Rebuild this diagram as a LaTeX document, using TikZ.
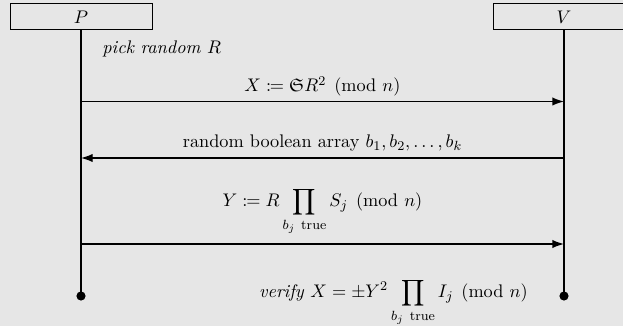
\documentclass[tikz,border=0pt,11pt]{standalone}
\usepackage{amsmath,amssymb,mathtools}
\usetikzlibrary{arrows.meta}
\definecolor{bgcol}{RGB}{230,230,230}
\tikzset{
  actor/.style={draw, line width=0.6pt, minimum width=85.2pt, minimum height=15.6pt, inner sep=0pt},
  life/.style={line width=0.8pt},
  msg/.style={line width=0.8pt, -{Latex[length=7pt,width=5pt]}},
  enddot/.style={circle, fill=black, inner sep=0pt, minimum size=5.5pt},
  lbl/.style={anchor=base, inner sep=0pt}
}
\begin{document}
\begin{tikzpicture}[x=0.6pt,y=-0.6pt]
\useasboundingbox (0,0) rectangle (623,326);
\clip (0,0) rectangle (623,326);
\fill[bgcol] (0,0) rectangle (623,326);
\node[actor] (P) at (81,17) {$P$};
\node[actor] (V) at (564,17) {$V$};
\node[enddot] (Pend) at (81,296) {};
\node[enddot] (Vend) at (564,296) {};
\draw[life] (P.south) -- (Pend.center);
\draw[life] (V.south) -- (Vend.center);
% message end points on the lifelines
\coordinate (p1) at (81,101.5);  \coordinate (v1) at (564,101.5);
\coordinate (p2) at (81,158);    \coordinate (v2) at (564,158);
\coordinate (p3) at (81,244);    \coordinate (v3) at (564,244);
\draw[msg] (p1) -- (v1);
\draw[msg] (v2) -- (p2);
\draw[msg] (p3) -- (v3);
\node[anchor=base west, inner sep=0pt] (pick) at (102,54) {\textit{pick random} $R$};
\node[lbl] (m1) at (322.5,92) {$X \coloneqq \mathfrak{S}R^2 \pmod n$};
\node[lbl] (m2) at (322.5,148) {random boolean array $b_1, b_2, \ldots, b_k$};
\node[lbl] (m3) at (322.5,207) {$\displaystyle Y \coloneqq R \prod_{b_j\ \text{true}} S_j \pmod n$};
\node[anchor=base east, inner sep=0pt] (ver) at (528,298) {\textit{verify} $\displaystyle X = \pm Y^2 \prod_{b_j\ \text{true}} I_j \pmod n$};
\end{tikzpicture}
\end{document}
